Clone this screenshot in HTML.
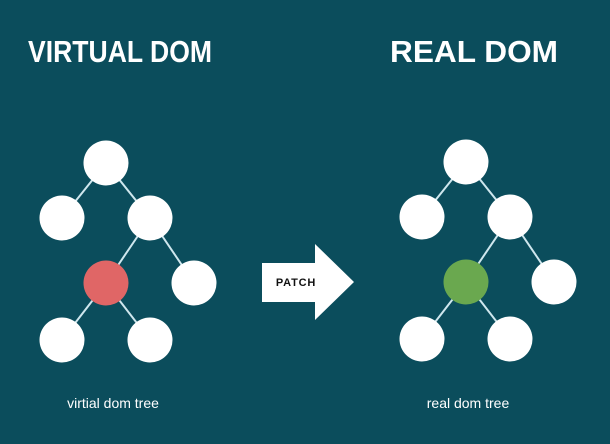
<!DOCTYPE html>
<html><head><style>
html,body{margin:0;padding:0;background:#0b4d5c;}
</style></head><body>
<svg width="610" height="444" viewBox="0 0 610 444" xmlns="http://www.w3.org/2000/svg" style="display:block">
<rect width="610" height="444" fill="#0b4d5c"/>
<text x="28" y="62" font-family="Liberation Sans, sans-serif" font-weight="bold" font-size="31" fill="#ffffff" textLength="184" lengthAdjust="spacingAndGlyphs">VIRTUAL DOM</text>
<text x="390" y="62" font-family="Liberation Sans, sans-serif" font-weight="bold" font-size="31" fill="#ffffff" textLength="168" lengthAdjust="spacingAndGlyphs">REAL DOM</text>
<g stroke="#cfe7ee" stroke-width="2">
<line x1="106" y1="163" x2="62" y2="218"/>
<line x1="106" y1="163" x2="150" y2="218"/>
<line x1="150" y1="218" x2="106" y2="283"/>
<line x1="150" y1="218" x2="194" y2="283"/>
<line x1="106" y1="283" x2="62" y2="340"/>
<line x1="106" y1="283" x2="150" y2="340"/>
</g>
<g fill="#ffffff">
<circle cx="106" cy="163" r="22.5"/>
<circle cx="62" cy="218" r="22.5"/>
<circle cx="150" cy="218" r="22.5"/>
<circle cx="194" cy="283" r="22.5"/>
<circle cx="62" cy="340" r="22.5"/>
<circle cx="150" cy="340" r="22.5"/>
</g>
<circle cx="106" cy="283" r="22.5" fill="#e06666"/>
<g transform="translate(360,-1)">
<g stroke="#cfe7ee" stroke-width="2">
<line x1="106" y1="163" x2="62" y2="218"/>
<line x1="106" y1="163" x2="150" y2="218"/>
<line x1="150" y1="218" x2="106" y2="283"/>
<line x1="150" y1="218" x2="194" y2="283"/>
<line x1="106" y1="283" x2="62" y2="340"/>
<line x1="106" y1="283" x2="150" y2="340"/>
</g>
<g fill="#ffffff">
<circle cx="106" cy="163" r="22.5"/>
<circle cx="62" cy="218" r="22.5"/>
<circle cx="150" cy="218" r="22.5"/>
<circle cx="194" cy="283" r="22.5"/>
<circle cx="62" cy="340" r="22.5"/>
<circle cx="150" cy="340" r="22.5"/>
</g>
<circle cx="106" cy="283" r="22.5" fill="#6aa84f"/>
</g>
<polygon points="262,263 315,263 315,244 354,282 315,320 315,302 262,302" fill="#ffffff"/>
<text x="296" y="286" text-anchor="middle" font-family="Liberation Sans, sans-serif" font-weight="bold" font-size="11" letter-spacing="0.8" fill="#111">PATCH</text>
<text x="113" y="408" text-anchor="middle" font-family="Liberation Sans, sans-serif" font-size="14" fill="#ffffff">virtial dom tree</text>
<text x="468" y="408" text-anchor="middle" font-family="Liberation Sans, sans-serif" font-size="14" fill="#ffffff">real dom tree</text>
</svg>
</body></html>
